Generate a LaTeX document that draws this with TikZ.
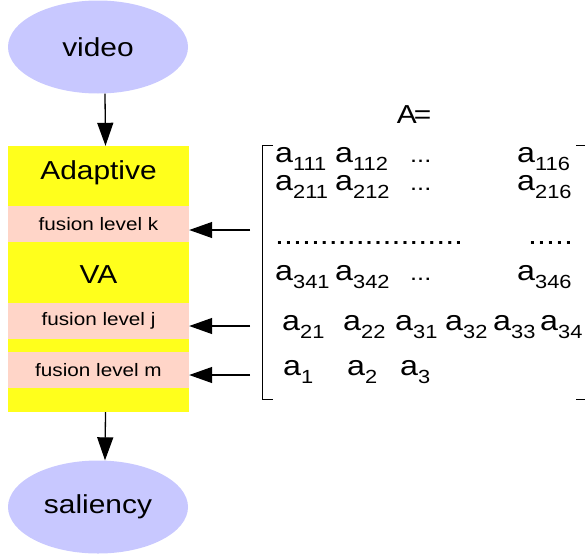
\documentclass[tikz,border=0pt]{standalone}
\usepackage{fontspec}
\setmainfont{Liberation Sans}[FakeStretch=1.15]
\usetikzlibrary{shapes.geometric,arrows.meta}

\definecolor{lavender}{RGB}{200,200,255}
\definecolor{vayellow}{RGB}{255,255,28}
\definecolor{fusepink}{RGB}{255,213,200}

% one matrix entry: a with a lowered index
\newcommand{\ent}[1]{a\raisebox{-8pt}{\fontsize{19}{19}\selectfont #1}}

\begin{document}
\begin{tikzpicture}[x=1pt,y=-1pt,
    endnode/.style={ellipse, fill=lavender, minimum width=180pt, minimum height=93pt, inner sep=0pt, font=\fontsize{26}{30}\selectfont},
    bandnode/.style={rectangle, fill=fusepink, minimum width=181pt, minimum height=36pt, inner sep=0pt, font=\fontsize{18}{22}\selectfont},
    entry/.style={anchor=base west, inner sep=0pt, font=\fontsize{28}{32}\selectfont},
    arr/.style={-{Triangle[length=23pt,width=16pt]}, line width=1.3pt}]

        \clip (0,0) rectangle (585,554);

        \node[endnode] (video) at (98,47) {video};
        \node[endnode] (saliency) at (98,507) {saliency};

        \node[rectangle, fill=vayellow, minimum width=181pt, minimum height=266pt, inner sep=0pt] (vabox) at (98.5,279) {};
        \node[font=\fontsize{26}{30}\selectfont] (adaptive) at (98.5,173) {Adaptive};
        \node[font=\fontsize{26}{30}\selectfont] (va) at (98.5,275) {VA};
        \node[bandnode] (lvk) at (98.5,224) {fusion level k};
        \node[bandnode] (lvj) at (98.5,321) {fusion level j};
        \node[bandnode] (lvm) at (98.5,370) {fusion level m};

        \draw[arr] ([xshift=7pt]video.south) -- ([xshift=7pt]vabox.north);
        \draw[arr] ([xshift=7pt]vabox.south) -- ([xshift=7pt]saliency.north);

        \coordinate (kin) at (250,230);
        \coordinate (jin) at (250,326);
        \coordinate (min) at (250,375);
        \draw[arr] (kin) -- (kin -| lvk.east);
        \draw[arr] (jin) -- (jin -| lvj.east);
        \draw[arr] (min) -- (min -| lvm.east);

        % the matrix
        \node[font=\fontsize{26}{30}\selectfont] (aeq) at (414,115) {A\kern-3pt=};
        \draw[line width=1pt] (273,145) -- (262.5,145) -- (262.5,399) -- (273,399);
        \draw[line width=1pt] (576,145) -- (588,145) -- (588,399) -- (576,399);

        \node[entry] (a111) at (275,162) {\ent{111}};
        \node[entry] (a112) at (335,162) {\ent{112}};
        \node[entry, font=\fontsize{22}{26}\selectfont] (r1dots) at (410,162) {...};
        \node[entry] (a116) at (517,162) {\ent{116}};

        \node[entry] (a211) at (275,190) {\ent{211}};
        \node[entry] (a212) at (335,190) {\ent{212}};
        \node[entry, font=\fontsize{22}{26}\selectfont] (r2dots) at (410,190) {...};
        \node[entry] (a216) at (517,190) {\ent{216}};

        \node[entry] (ldots) at (275,244) {.....................};
        \node[entry] (rdots) at (528,244) {.....};

        \node[entry] (a341) at (275,280) {\ent{341}};
        \node[entry] (a342) at (335,280) {\ent{342}};
        \node[entry, font=\fontsize{22}{26}\selectfont] (r4dots) at (410,280) {...};
        \node[entry] (a346) at (517,280) {\ent{346}};

        \node[entry] (a21) at (282,330) {\ent{21}};
        \node[entry] (a22) at (343,330) {\ent{22}};
        \node[entry] (a31) at (395,330) {\ent{31}};
        \node[entry] (a32) at (445,330) {\ent{32}};
        \node[entry] (a33) at (493,330) {\ent{33}};
        \node[entry] (a34) at (540,330) {\ent{34}};

        \node[entry] (a1) at (283,375) {\ent{1}};
        \node[entry] (a2) at (347,375) {\ent{2}};
        \node[entry] (a3) at (400,375) {\ent{3}};

\end{tikzpicture}
\end{document}
